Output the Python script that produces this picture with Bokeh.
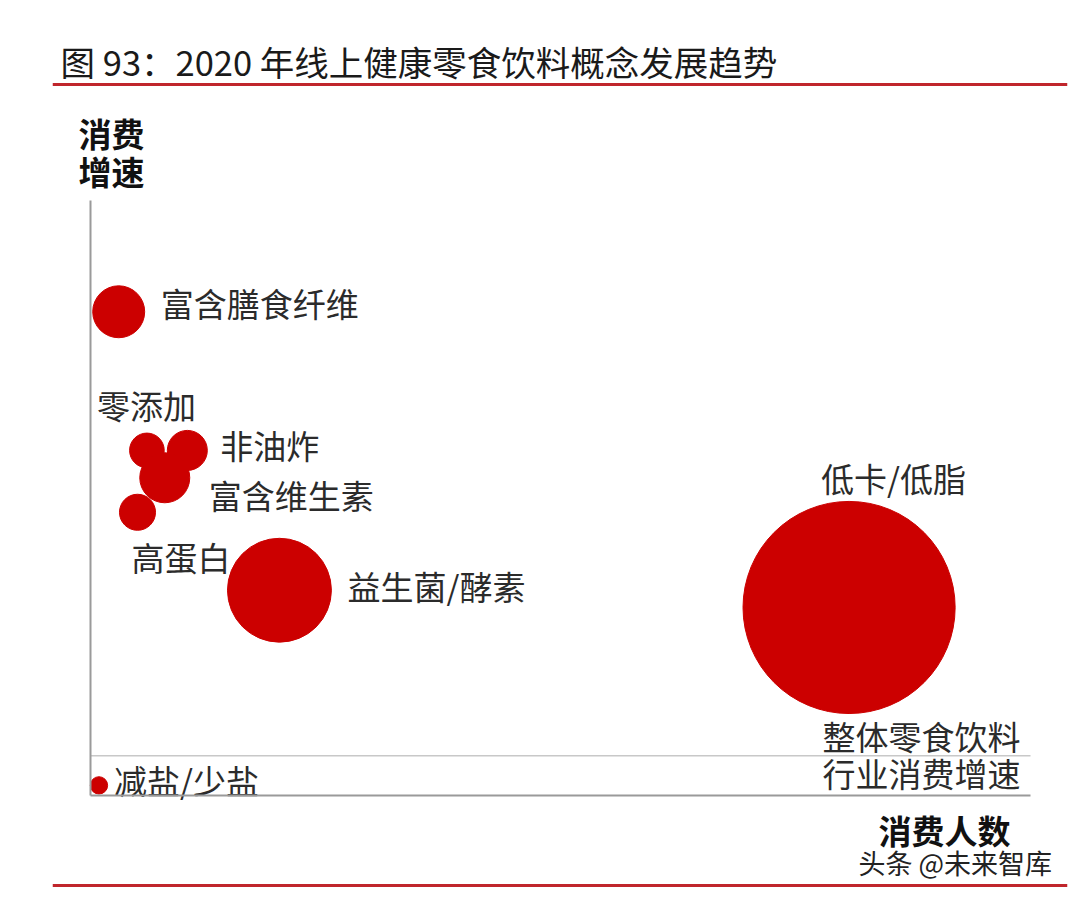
import numpy as np
from bokeh.plotting import figure
from bokeh.models import ColumnDataSource, Label, Span, FixedTicker, Range1d
from bokeh.core.properties import value
from bokeh.embed import file_html
from bokeh.resources import INLINE

# ---------------- data ----------------
title_text = "图 93：2020 年线上健康零食饮料概念发展趋势"
concepts = ["富含膳食纤维", "零添加", "非油炸", "富含维生素", "高蛋白", "益生菌/酵素", "低卡/低脂", "减盐/少盐"]
consumers = [3.0, 6.0, 10.3, 7.9, 5.0, 20.1, 80.7, 0.9]      # 消费人数 (relative)
growth = [81.3, 58.0, 58.0, 53.4, 47.6, 34.5, 31.6, 1.7]      # 消费增速 (relative)
scale = [27, 12, 16, 25, 13, 108, 450, 3]                    # bubble magnitude
axis_min, axis_max = 0, 100
industry_growth = 6.7
industry_label = ["整体零食饮料", "行业消费增速"]
x_label = "消费人数"
y_label = ["消费", "增速"]
source_note = "头条 @未来智库"

# ---------------- style / layout ----------------
FONT = "Noto Sans CJK SC"
RED = "#cc0000"
RULE = "#c0262c"
TXT = "#2b2b2b"
W, H = 1080, 902
BL, BR, BT, BB = 52, 13, 0, 10           # borders -> frame spans page x 52..1067
AX_L, AX_R, AX_B, AX_T = 90, 1030, 795, 200  # where the axes sit on the page
label_dx = [42, -50, 33, 44, -6, 68, -28, 15]
label_dy = [-9, -45, -5, 17, 45, -4, -129, -5]

kx = (AX_R - AX_L) / (axis_max - axis_min)
ky = (AX_B - AX_T) / (axis_max - axis_min)


def px2x(px):
    return axis_min + (px - AX_L) / kx


def px2y(py):
    return axis_min + (AX_B - py) / ky


p = figure(width=W, height=H, output_backend="svg", toolbar_location=None,
           x_range=Range1d(px2x(BL), px2x(W - BR)),
           y_range=Range1d(px2y(H - BB), px2y(BT)),
           min_border_left=BL, min_border_right=BR, min_border_top=BT, min_border_bottom=BB)
p.outline_line_color = None
p.xgrid.visible = False
p.ygrid.visible = False
p.background_fill_color = "white"
p.border_fill_color = "white"

for ax in (p.xaxis, p.yaxis):
    ax.ticker = FixedTicker(ticks=[])
    ax.fixed_location = axis_min
    ax.bounds = (axis_min, axis_max)
    ax.axis_line_color = "#9a9a9a"
    ax.axis_line_width = 2
    ax.major_tick_line_color = None
    ax.minor_tick_line_color = None
    ax.major_tick_out = 0
    ax.major_tick_in = 0
    ax.major_label_standoff = 0
    ax.major_label_text_font_size = "0px"

# industry reference line (between the axis bounds)
p.line([axis_min, axis_max], [industry_growth, industry_growth], line_color="#c8c8c8", line_width=1.5)

src = ColumnDataSource(dict(
    name=concepts, x=consumers, y=growth,
    size=10 * np.sqrt(np.array(scale, dtype=float)),
    dx=label_dx, dy=label_dy,
))
p.scatter("x", "y", size="size", marker="circle", source=src,
          fill_color=RED, line_color=RED, line_width=1, fill_alpha=1.0)
p.text("x", "y", text="name", x_offset="dx", y_offset="dy", source=src,
       text_font=value(FONT), text_font_size="33px", text_color=TXT,
       text_baseline="middle", text_align="left")

ind_src = ColumnDataSource(dict(x=[axis_max, axis_max], y=[industry_growth, industry_growth],
                                t=industry_label, dy=[-20, 17]))
p.text("x", "y", text="t", x_offset=-10, y_offset="dy", source=ind_src,
       text_font=value(FONT), text_font_size="33px", text_color=TXT,
       text_baseline="middle", text_align="right")

# header / footer rules and texts
for py in (84, 885):
    p.add_layout(Span(location=px2y(py), dimension="width", line_color=RULE, line_width=3))

p.add_layout(Label(x=px2x(60), y=px2y(60), text=title_text, text_font=FONT, text_font_size="34.5px",
                   text_color="#1a1a1a", text_baseline="middle", text_align="left"))
for i, t in enumerate(y_label):
    p.add_layout(Label(x=px2x(78), y=px2y(132 + 38 * i), text=t, text_font=FONT,
                       text_font_size="33px", text_font_style="bold", text_color="#111111",
                       text_baseline="middle", text_align="left"))
p.add_layout(Label(x=px2x(878), y=px2y(829), text=x_label, text_font=FONT, text_font_size="33px",
                   text_font_style="bold", text_color="#111111",
                   text_baseline="middle", text_align="left"))
p.add_layout(Label(x=px2x(858), y=px2y(862), text=source_note, text_font=FONT,
                   text_font_size="27px", text_color="#222222",
                   text_baseline="middle", text_align="left"))

open("out.html", "w").write(file_html(p, INLINE))
